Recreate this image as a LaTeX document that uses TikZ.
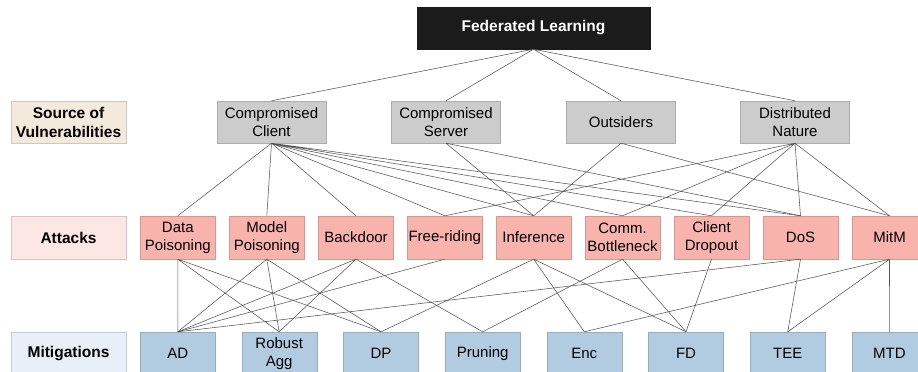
\documentclass[tikz,border=0pt]{standalone}
\usepackage{fontspec}
\setmainfont{Liberation Sans}
\definecolor{rootfill}{HTML}{1B1B1B}
\definecolor{srcfill}{HTML}{CCCCCC}
\definecolor{atkfill}{HTML}{F9B3AD}
\definecolor{mitfill}{HTML}{B1CBE0}
\definecolor{srclbl}{HTML}{F3EADB}
\definecolor{atklbl}{HTML}{FDE7E5}
\definecolor{mitlbl}{HTML}{E8EFF8}
\definecolor{linkgray}{HTML}{555555}

\begin{document}
\begin{tikzpicture}[x=1pt,y=1pt,every node/.style={inner sep=0pt,align=center,font=\fontsize{15}{18}\selectfont},
root/.style={fill=rootfill,draw=rootfill,text=white,minimum width=233pt,minimum height=42pt,font=\fontsize{15.5}{18}\selectfont\bfseries},
src/.style={fill=srcfill,draw=srcfill!85!black,minimum width=109pt,minimum height=42pt},
atk/.style={fill=atkfill,draw=atkfill!85!black,minimum width=75pt,minimum height=43pt},
mit/.style={fill=mitfill,draw=mitfill!85!black,minimum width=75pt,minimum height=43pt},
lbl/.style={fill=#1,draw=#1!85!black,minimum width=115pt,minimum height=42pt,font=\fontsize{15.5}{19}\selectfont\bfseries},
link/.style={linkgray,line width=0.55pt}]
\useasboundingbox(0,0)rectangle(918,372);
% levels
\node[root](fl)at(533.5,344){Federated Learning};
\node[lbl=srclbl](lsrc)at(68.5,250){Source of\\Vulnerabilities};
\node[lbl=atklbl,minimum height=43pt](latk)at(68.5,134.5){Attacks};
\node[lbl=mitlbl,minimum height=43pt](lmit)at(68.5,18.5){Mitigations};
% sources
\node[src](cc)at(271.5,250){Compromised\\Client};
\node[src](cs)at(446,250){Compromised\\Server};
\node[src](out)at(621,250){Outsiders};
\node[src](dn)at(795,250){Distributed\\Nature};
% attacks
\node[atk](dpo)at(177.8,134.5){Data\\Poisoning};
\node[atk](mpo)at(266.8,134.5){Model\\Poisoning};
\node[atk](bd)at(356,134.5){Backdoor};
\node[atk](fr)at(444.8,134.5){Free-riding};
\node[atk](inf)at(533.7,134.5){Inference};
\node[atk](cb)at(622.5,134.5){Comm.\\Bottleneck};
\node[atk](cd)at(711.5,134.5){Client\\Dropout};
\node[atk](dos)at(800.5,134.5){DoS};
\node[atk](mitm)at(889.5,134.5){MitM};
% mitigations
\node[mit](ad)at(177.8,18.5){AD};
\node[mit](ra)at(279.2,18.5){Robust\\Agg};
\node[mit](dp)at(381,18.5){DP};
\node[mit](pr)at(482.7,18.5){Pruning};
\node[mit](enc)at(584.3,18.5){Enc};
\node[mit](fd)at(686,18.5){FD};
\node[mit](tee)at(787.7,18.5){TEE};
\node[mit](mtd)at(889.4,18.5){MTD};
% root to sources
\draw[link](fl.south)--(cc.north)(fl.south)--(cs.north)(fl.south)--(out.north)(fl.south)--(dn.north);
% sources to attacks
\draw[link](cc.south)--(dpo.north)(cc.south)--(mpo.north)(cc.south)--(bd.north)(cc.south)--(fr.north)
(cc.south)--(inf.north)(cc.south)--(cb.north)(cc.south)--(cd.north)(cc.south)--(dos.north);
\draw[link](cs.south)--(inf.north)(cs.south)--(dos.north);
\draw[link](out.south)--(inf.north)(out.south)--(mitm.north);
\draw[link](dn.south)--(fr.north)(dn.south)--(cb.north)(dn.south)--(cd.north)(dn.south)--(dos.north)(dn.south)--(mitm.north);
% attacks to mitigations
\draw[link](dpo.south)--(ad.north)(dpo.south)--(ra.north)(dpo.south)--(dp.north);
\draw[link](mpo.south)--(ad.north)(mpo.south)--(ra.north)(mpo.south)--(dp.north);
\draw[link](bd.south)--(ad.north)(bd.south)--(ra.north)(bd.south)--(pr.north);
\draw[link](fr.south)--(ad.north);
\draw[link](inf.south)--(dp.north)(inf.south)--(enc.north)(inf.south)--(fd.north);
\draw[link](cb.south)--(pr.north)(cb.south)--(fd.north);
\draw[link](cd.south)--(fd.north);
\draw[link](dos.south)--(ad.north)(dos.south)--(tee.north);
\draw[link](mitm.south)--(enc.north)(mitm.south)--(tee.north)(mitm.south)--(mtd.north);
\end{tikzpicture}
\end{document}
